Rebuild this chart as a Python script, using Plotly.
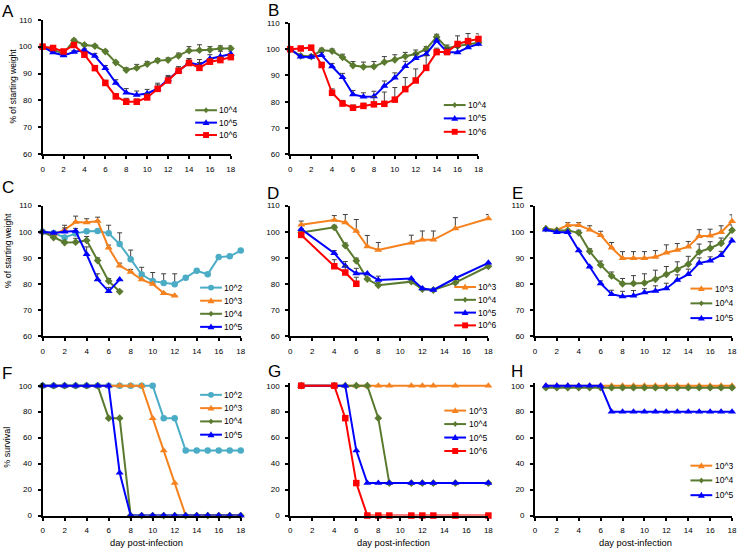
import plotly.graph_objects as go

W, H = 743, 554
FONT = "Arial, 'Liberation Sans', sans-serif"

GREEN = "#5a7a2f"
BLUE = "#0000ff"
RED = "#ff0000"
CYAN = "#4bacc6"
ORANGE = "#f5821f"
ERRC = "#404040"

# ---------------- data ----------------
days_0_18 = [0, 1, 2, 3, 4, 5, 6, 7, 8, 9, 10, 11, 12, 13, 14, 15, 16, 17, 18]
days_1_18 = [1, 2, 3, 4, 5, 6, 7, 8, 9, 10, 11, 12, 13, 14, 15, 16, 17, 18]

# Panel A
A_g = [100, 98.8, 97.5, 102.3, 100.6, 100.2, 98.2, 94.1, 91.3, 92.1, 93.5, 94.8, 95, 96.6, 98.5, 98.7, 98.8, 99.3, 99.3]
A_g_err = [0, 0, 0, 0.5, 0.5, 0.5, 0.5, 0.5, 0.8, 1.3, 1, 0.8, 0.8, 1, 1.5, 2, 1.2, 1, 1]
A_b = [100, 97.8, 96.7, 98, 98.7, 96.5, 92, 86.5, 82.9, 82, 82.6, 84.4, 87.8, 91, 94.1, 93.2, 95.5, 96.3, 97.3]
A_b_err = [0, 0.5, 0.5, 0.5, 0.5, 1, 1, 1.2, 1.5, 1.5, 1.5, 2, 1.5, 1.5, 1.5, 2, 1.5, 2, 1]
A_r = [100, 99.5, 98.2, 100.6, 97, 92, 86.5, 81.5, 79.5, 79.5, 81.1, 84.3, 87.4, 91, 93.9, 92.1, 94.4, 95, 96.1]
A_r_err = [0, 0, 0, 0.5, 0.5, 0.8, 1, 1, 1.3, 1, 1.5, 1.5, 1.5, 1.5, 1.5, 2, 1.2, 1.2, 1]

# Panel B
B_g = [100, 97.5, 97.2, 99.6, 99.3, 96.9, 93.8, 93.3, 93.4, 95.1, 96, 97.3, 98.2, 100, 104.7, 100.4, 101.2, 101.9, 102.5]
B_g_err = [0, 0, 0, 0.8, 0.8, 1.2, 1.5, 1.8, 1.9, 2.1, 1.9, 1.5, 1.5, 1, 1, 1.2, 1.5, 1.5, 1.5]
B_b = [100, 97.1, 97, 97.7, 93.4, 89.3, 82.8, 81.9, 82, 86, 89.1, 93.5, 96.6, 98.1, 103.2, 98.9, 98.8, 100.7, 102]
B_b_err = [0, 0.5, 0.8, 1, 1.2, 1.5, 1.5, 1.5, 2, 1.9, 1.9, 1.9, 1.6, 1.2, 1, 1.5, 2, 1.7, 1.2]
B_r = [100, 100.3, 100.6, 94, 83.4, 79.3, 77.7, 78.4, 79, 79.2, 80.8, 84.8, 88.1, 92.9, 98.9, 98.9, 102, 103.1, 103.9]
B_r_err = [0, 0, 0, 1, 1.5, 1.2, 1, 1, 2.9, 4.5, 4.6, 4.4, 4.4, 4.6, 1.5, 1.5, 3.1, 2.9, 2]

# Panel C
C_days_o = [0, 1, 2, 3, 4, 5, 6, 7, 8, 9, 10, 11, 12]
C_days_gb = [0, 1, 2, 3, 4, 5, 6, 7]
C_c = [100, 99.5, 97.8, 99.3, 100.2, 100.3, 99.4, 95.3, 89.5, 83.6, 81.1, 80.4, 79.9, 82.4, 85.1, 83.7, 90.3, 90.6, 92.8]
C_c_err = [0, 0.5, 0, 0, 0, 0, 3.1, 4.3, 3.5, 2.8, 3.3, 3.5, 4, 0, 0, 0, 0, 0, 0]
C_o = [100, 99, 100.8, 103.7, 103.6, 104.1, 93.9, 87, 84.6, 81.7, 80, 76.5, 75.5]
C_o_err = [0, 0, 1.7, 2.3, 1.4, 1.5, 1, 1, 1, 0, 0, 0, 0]
C_g = [100, 97.8, 95.9, 96, 96.7, 89, 81.1, 77.1]
C_g_err = [0, 0.5, 0.5, 1.5, 1.5, 1, 1, 0]
C_b = [100, 99.5, 100, 100.3, 91.4, 81.7, 77.2, 81.7]
C_b_err = [0, 0.5, 1.5, 1, 2.8, 2.2, 1.5, 0]

# Panel D
D_days = [1, 4, 5, 6, 7, 8, 11, 12, 13, 15, 18]
D_days_r = [1, 4, 5, 6]
D_o = [102.7, 104.5, 103.6, 100.3, 94.4, 93, 95.8, 96.9, 96.9, 101.3, 105.1]
D_o_err = [1.4, 1.7, 3, 4.4, 4.2, 2.9, 2.9, 3.4, 3.4, 4.1, 1.5]
D_g = [99.7, 101.7, 94.7, 88.9, 81.9, 79.5, 80.9, 78, 77.7, 80.5, 86.8]
D_g_err = [0, 0.8, 1, 1, 0, 1, 0, 0, 0, 0, 0]
D_b = [101, 91.8, 86.9, 84, 84, 81.5, 82.1, 78.3, 77.7, 82.2, 88.1]
D_b_err = [0, 1, 1.7, 2, 0, 1.5, 0, 0, 0, 0, 0]
D_r = [98.8, 86.8, 84.4, 80.1]
D_r_err = [0, 2.5, 2.5, 2.5]

# Panel E
E_o = [101.2, 100.7, 102.5, 102.5, 100.8, 98.7, 93.9, 89.9, 89.9, 89.9, 90.3, 92, 93, 94.3, 98.3, 98.5, 99.8, 104]
E_o_err = [0, 0, 1, 1, 1.5, 1.5, 2, 2.5, 2.5, 2.5, 2.5, 3, 2.5, 2, 2.5, 2.5, 2.5, 2.5]
E_g = [101.2, 100.5, 100.5, 99.6, 92.5, 87.3, 83.1, 80.1, 80.2, 80.4, 81.8, 83.7, 85.5, 87.6, 92.3, 93.7, 95.6, 100.6]
E_g_err = [0, 0, 0, 1, 1, 1.5, 1.5, 2, 3, 3.5, 3.5, 3, 3, 3, 3, 2.5, 2, 2]
E_b = [100.8, 99.8, 99.8, 92.8, 86.6, 80.2, 76.1, 75.2, 75.5, 76.7, 77.3, 78.3, 81.5, 83.7, 88, 88.9, 91, 96.6]
E_b_err = [0, 0, 0, 0, 0, 1, 1.5, 2, 2, 1.5, 2, 2, 2, 2, 2, 1.5, 1.5, 1]

# Panel F (survival)
F_c = [100, 100, 100, 100, 100, 100, 100, 100, 100, 100, 100, 75, 75, 50, 50, 50, 50, 50, 50]
F_o = [100, 100, 100, 100, 100, 100, 100, 100, 100, 100, 75, 50, 25, 0, 0, 0, 0, 0, 0]
F_g = [100, 100, 100, 100, 100, 100, 75, 75, 0, 0, 0, 0, 0, 0, 0, 0, 0, 0, 0]
F_b = [100, 100, 100, 100, 100, 100, 100, 33, 0, 0, 0, 0, 0, 0, 0, 0, 0, 0, 0]

# Panel G (survival)
G_days = [1, 4, 5, 6, 7, 8, 9, 11, 12, 13, 15, 18]
G_o = [100, 100, 100, 100, 100, 100, 100, 100, 100, 100, 100, 100]
G_g = [100, 100, 100, 100, 100, 75, 25, 25, 25, 25, 25, 25]
G_b = [100, 100, 100, 50, 25, 25, 25, 25, 25, 25, 25, 25]
G_r = [100, 100, 75, 25, 0, 0, 0, 0, 0, 0, 0, 0]

# Panel H (survival)
H_o = [100, 100, 100, 100, 100, 100, 100, 100, 100, 100, 100, 100, 100, 100, 100, 100, 100, 100]
H_g = [98.5, 98.5, 98.5, 98.5, 98.5, 98.5, 98.5, 98.5, 98.5, 98.5, 98.5, 98.5, 98.5, 98.5, 98.5, 98.5, 98.5, 98.5]
H_b = [100, 100, 100, 100, 100, 100, 80, 80, 80, 80, 80, 80, 80, 80, 80, 80, 80, 80]

x_ticks = [0, 2, 4, 6, 8, 10, 12, 14, 16, 18]
weight_ticks = [60, 70, 80, 90, 100, 110]
surv_ticks = [0, 20, 40, 60, 80, 100]

# ---------------- layout helpers ----------------
def px(x):
    return x / W


def py(y):
    return 1 - y / H


# pixel frames: x of day 0 / day 18, y of top tick / bottom tick
panels = [
    dict(x0=41, x1=231, top=16, bot=152.7, kind="w"),     # A
    dict(x0=291, x1=481, top=19.3, bot=152.7, kind="w"),  # B
    dict(x0=41, x1=241, top=205, bot=337.7, kind="w"),    # C
    dict(x0=291, x1=491, top=205, bot=337.7, kind="w"),   # D
    dict(x0=538, x1=737, top=205, bot=337.7, kind="w"),   # E
    dict(x0=41, x1=241, top=388, bot=520, kind="s"),      # F
    dict(x0=291, x1=491, top=388, bot=520, kind="s"),     # G
    dict(x0=538, x1=737, top=388, bot=520, kind="s"),     # H
]

fig = go.Figure()
layout = {}
for i, p in enumerate(panels, start=1):
    sx = "" if i == 1 else str(i)
    if p["kind"] == "w":
        rng = [60, 110]
        tv = weight_ticks
        top = p["top"]
    else:
        rng = [0, 102]
        tv = surv_ticks
        top = p["top"] - 2 * (p["bot"] - p["top"]) / 100
    axis_common = dict(
        showline=True, linecolor="black", linewidth=2,
        ticks="outside", ticklen=3, tickwidth=1.5, tickcolor="black",
        showgrid=False, zeroline=False, ticklabeloverflow="allow",
        tickfont=dict(family=FONT, size=8, color="black"),
    )
    layout["xaxis" + sx] = dict(
        domain=[px(p["x0"]), px(p["x1"])], range=[0, 18], anchor="y" + sx,
        tickmode="array", tickvals=x_ticks, ticklabelstandoff=3, **axis_common)
    layout["yaxis" + sx] = dict(
        domain=[py(p["bot"]), py(top)], range=rng, anchor="x" + sx,
        tickmode="array", tickvals=tv, ticklabelstandoff=4, **axis_common)


def nz(errs):
    return [e if e else None for e in errs]


SYM = {"tri": ("triangle-up", 7), "sq": ("square", 6.5), "dia": ("diamond", 6), "circ": ("circle", 6.5)}


def add_series(panel, x, y, color, sym, err=None):
    sx = "" if panel == 1 else str(panel)
    s, size = SYM[sym]
    kw = {}
    if err is not None:
        kw["error_y"] = dict(type="data", array=nz(err), arrayminus=[0] * len(err),
                             symmetric=False, color=ERRC, thickness=1, width=2.5)
    fig.add_trace(go.Scatter(
        x=x, y=y, xaxis="x" + sx, yaxis="y" + sx, mode="lines+markers",
        line=dict(color=color, width=2),
        marker=dict(symbol=s, size=size, color=color, line=dict(width=0)),
        cliponaxis=False, showlegend=False, hoverinfo="x+y", **kw))


# A
add_series(1, days_0_18, A_g, GREEN, "dia", A_g_err)
add_series(1, days_0_18, A_b, BLUE, "tri", A_b_err)
add_series(1, days_0_18, A_r, RED, "sq", A_r_err)
# B
add_series(2, days_0_18, B_g, GREEN, "dia", B_g_err)
add_series(2, days_0_18, B_b, BLUE, "tri", B_b_err)
add_series(2, days_0_18, B_r, RED, "sq", B_r_err)
# C
add_series(3, days_0_18, C_c, CYAN, "circ", C_c_err)
add_series(3, C_days_o, C_o, ORANGE, "tri", C_o_err)
add_series(3, C_days_gb, C_g, GREEN, "dia", C_g_err)
add_series(3, C_days_gb, C_b, BLUE, "tri", C_b_err)
# D
add_series(4, D_days, D_o, ORANGE, "tri", D_o_err)
add_series(4, D_days, D_g, GREEN, "dia", D_g_err)
add_series(4, D_days, D_b, BLUE, "tri", D_b_err)
add_series(4, D_days_r, D_r, RED, "sq", D_r_err)
# E
add_series(5, days_1_18, E_o, ORANGE, "tri", E_o_err)
add_series(5, days_1_18, E_g, GREEN, "dia", E_g_err)
add_series(5, days_1_18, E_b, BLUE, "tri", E_b_err)
# F
add_series(6, days_0_18, F_c, CYAN, "circ")
add_series(6, days_0_18, F_o, ORANGE, "tri")
add_series(6, days_0_18, F_g, GREEN, "dia")
add_series(6, days_0_18, F_b, BLUE, "tri")
# G
add_series(7, G_days, G_o, ORANGE, "tri")
add_series(7, G_days, G_g, GREEN, "dia")
add_series(7, G_days, G_b, BLUE, "tri")
add_series(7, G_days, G_r, RED, "sq")
# H
add_series(8, days_1_18, H_o, ORANGE, "tri")
add_series(8, days_1_18, H_g, GREEN, "dia")
add_series(8, days_1_18, H_b, BLUE, "tri")

shapes = []
annotations = []


def legend(x0, y0, dy, entries):
    for k, (name, color, sym) in enumerate(entries):
        yc = y0 + k * dy
        shapes.append(dict(type="line", xref="paper", yref="paper",
                           x0=px(x0), x1=px(x0 + 22), y0=py(yc), y1=py(yc),
                           line=dict(color=color, width=2)))
        cx = x0 + 11
        if sym == "sq":
            shapes.append(dict(type="rect", xref="paper", yref="paper",
                               x0=px(cx - 3), x1=px(cx + 3), y0=py(yc - 3), y1=py(yc + 3),
                               fillcolor=color, line=dict(width=0)))
        elif sym == "circ":
            shapes.append(dict(type="circle", xref="paper", yref="paper",
                               x0=px(cx - 3), x1=px(cx + 3), y0=py(yc - 3), y1=py(yc + 3),
                               fillcolor=color, line=dict(width=0)))
        elif sym == "tri":
            path = "M {},{} L {},{} L {},{} Z".format(
                px(cx), py(yc - 3.5), px(cx + 3.5), py(yc + 2.5), px(cx - 3.5), py(yc + 2.5))
            shapes.append(dict(type="path", xref="paper", yref="paper", path=path,
                               fillcolor=color, line=dict(width=0)))
        else:
            path = "M {},{} L {},{} L {},{} L {},{} Z".format(
                px(cx), py(yc - 3), px(cx + 2.5), py(yc), px(cx), py(yc + 3), px(cx - 2.5), py(yc))
            shapes.append(dict(type="path", xref="paper", yref="paper", path=path,
                               fillcolor=color, line=dict(width=0)))
        annotations.append(dict(x=px(x0 + 22.5), y=py(yc), xref="paper", yref="paper",
                                text=name, showarrow=False, xanchor="left", yanchor="middle",
                                font=dict(family=FONT, size=8.5, color="black")))


L4 = ("10^4", GREEN, "dia")
L5 = ("10^5", BLUE, "tri")
L6 = ("10^6", RED, "sq")
L2 = ("10^2", CYAN, "circ")
L3 = ("10^3", ORANGE, "tri")

legend(195, 108, 12.6, [L4, L5, L6])
legend(446, 102.7, 13.6, [L4, L5, L6])
legend(200, 288.3, 13.3, [L2, L3, L4, L5])
legend(456.5, 287.7, 13, [L3, L4, L5, L6])
legend(695, 289.3, 15, [L3, L4, L5])
legend(200, 397.3, 13.5, [L2, L3, L4, L5])
legend(446.5, 413.3, 13.7, [L3, L4, L5, L6])
legend(695, 469.3, 15, [L3, L4, L5])

# panel letters
for letter, (lx, ly) in {"A": (6, 8), "B": (274, 6.5), "C": (6, 187), "D": (274, 193),
                         "E": (520, 193), "F": (5, 376), "G": (275, 374), "H": (520, 374)}.items():
    annotations.append(dict(x=px(lx), y=py(ly), xref="paper", yref="paper", text=letter,
                            showarrow=False, xanchor="center", yanchor="middle",
                            font=dict(family=FONT, size=17, color="black")))

# axis titles
for (tx, ty, txt, sz) in [(11, 83, "% of starting weight", 8.5), (6, 250, "% of starting weight", 8.5),
                          (5, 450, "% survival", 9)]:
    annotations.append(dict(x=px(tx), y=py(ty), xref="paper", yref="paper", text=txt,
                            textangle=-90, showarrow=False, xanchor="center", yanchor="middle",
                            font=dict(family=FONT, size=sz, color="black")))
for tx in [145.5, 395.5, 640]:
    annotations.append(dict(x=px(tx), y=py(548), xref="paper", yref="paper",
                            text="day post-infection", showarrow=False,
                            xanchor="center", yanchor="middle",
                            font=dict(family=FONT, size=9.3, color="black")))

fig.update_layout(
    width=W, height=H, margin=dict(l=0, r=0, t=0, b=0),
    paper_bgcolor="white", plot_bgcolor="white", showlegend=False,
    font=dict(family=FONT, size=8, color="black"),
    shapes=shapes, annotations=annotations, **layout)

fig.write_html("out.html", config={"displayModeBar": False},
               post_script="document.body.style.margin='0';document.body.style.overflow='hidden';")
